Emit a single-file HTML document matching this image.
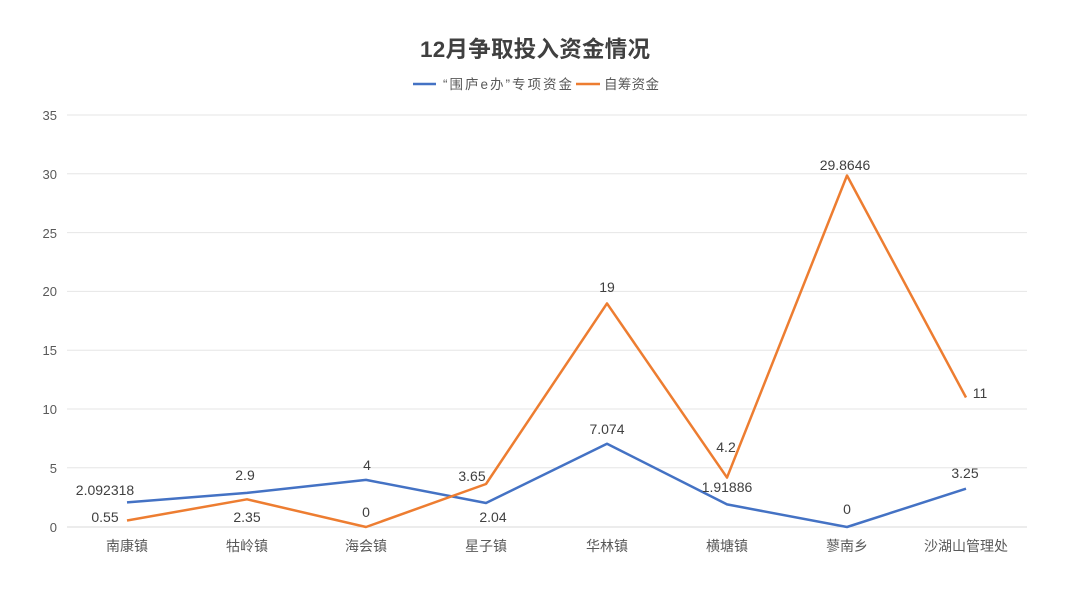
<!DOCTYPE html>
<html><head><meta charset="utf-8"><style>
body{margin:0;background:#fff;}
svg text{font-family:"Liberation Sans","Noto Sans CJK SC",sans-serif;}
</style></head><body>
<svg width="1080" height="602" viewBox="0 0 1080 602" xmlns="http://www.w3.org/2000/svg">
<rect width="1080" height="602" fill="#fff"/>
<text x="420" y="57" textLength="230" font-size="22.5" font-weight="bold" fill="#404040">12月争取投入资金情况</text>
<line x1="413" y1="84" x2="436" y2="84" stroke="#4472c4" stroke-width="2.5"/>
<text x="443" y="89" font-size="13.5" fill="#595959" textLength="129">“围庐e办”专项资金</text>
<line x1="576" y1="84" x2="600" y2="84" stroke="#ed7d31" stroke-width="2.5"/>
<text x="604" y="89" font-size="13.5" fill="#595959" textLength="55">自筹资金</text>
<g stroke="#e6e6e6" stroke-width="1">
<line x1="67" y1="115" x2="1027" y2="115"/>
<line x1="67" y1="173.8" x2="1027" y2="173.8"/>
<line x1="67" y1="232.6" x2="1027" y2="232.6"/>
<line x1="67" y1="291.4" x2="1027" y2="291.4"/>
<line x1="67" y1="350.2" x2="1027" y2="350.2"/>
<line x1="67" y1="409" x2="1027" y2="409"/>
<line x1="67" y1="467.8" x2="1027" y2="467.8"/>
</g>
<line x1="67" y1="527" x2="1027" y2="527" stroke="#d9d9d9"/>
<g font-size="13" fill="#595959" text-anchor="end">
<text x="57" y="120">35</text><text x="57" y="179">30</text><text x="57" y="238">25</text>
<text x="57" y="296">20</text><text x="57" y="355">15</text><text x="57" y="414">10</text>
<text x="57" y="473">5</text><text x="57" y="532">0</text>
</g>
<g font-size="14" fill="#595959" text-anchor="middle">
<text x="127" y="551">南康镇</text><text x="247" y="551">牯岭镇</text><text x="366" y="551">海会镇</text>
<text x="486" y="551">星子镇</text><text x="607" y="551">华林镇</text><text x="727" y="551">横塘镇</text>
<text x="847" y="551">蓼南乡</text><text x="966" y="551">沙湖山管理处</text>
</g>
<polyline fill="none" stroke="#4472c4" stroke-width="2.5" stroke-linejoin="round" points="127,502.4 247,492.9 366,479.9 486,503 607,443.7 727,504.4 847,527 966,488.7"/>
<polyline fill="none" stroke="#ed7d31" stroke-width="2.5" stroke-linejoin="round" points="127,520.5 247,499.3 366,527 486,484 607,303.4 727,477.6 847,175.5 966,397.5"/>
<g font-size="14" fill="#404040" text-anchor="middle">
<text x="105" y="495">2.092318</text>
<text x="245" y="480">2.9</text>
<text x="367" y="470">4</text>
<text x="493" y="522">2.04</text>
<text x="607" y="434">7.074</text>
<text x="727" y="492">1.91886</text>
<text x="847" y="514">0</text>
<text x="965" y="478">3.25</text>
<text x="105" y="522">0.55</text>
<text x="247" y="522">2.35</text>
<text x="366" y="517">0</text>
<text x="472" y="481">3.65</text>
<text x="607" y="292">19</text>
<text x="726" y="452">4.2</text>
<text x="845" y="170">29.8646</text>
<text x="980" y="398">11</text>
</g>
</svg>
</body></html>
